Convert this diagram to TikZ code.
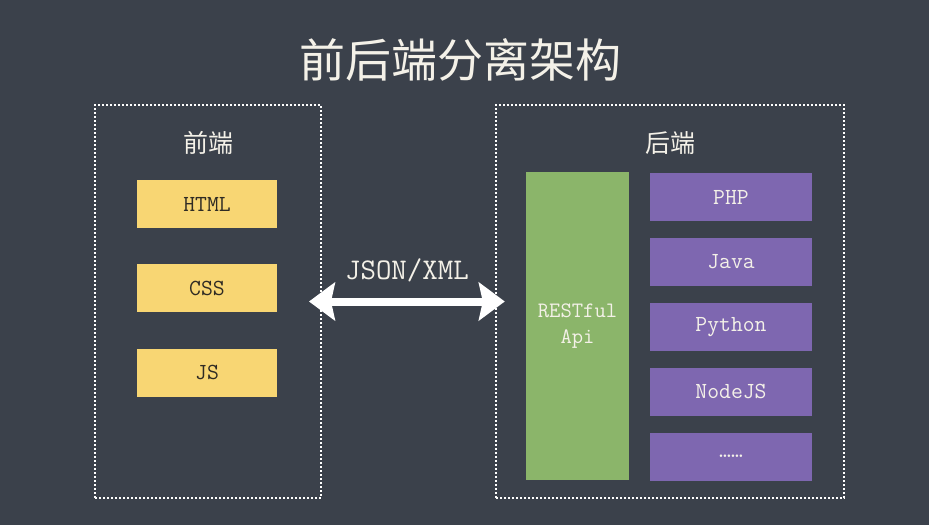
\documentclass[tikz,border=0pt]{standalone}
\usepackage{fontspec}
\newfontfamily\cjk{Noto Sans CJK SC}
\usetikzlibrary{arrows.meta}
\usetikzlibrary{positioning}

\definecolor{board}{HTML}{3B414B}
\definecolor{chalk}{HTML}{F4F1E8}
\definecolor{htmlyellow}{HTML}{F8D673}
\definecolor{apigreen}{HTML}{8BB56A}
\definecolor{langpurple}{HTML}{7E67B0}
\definecolor{inkbrown}{HTML}{2F2B24}

\begin{document}
\begin{tikzpicture}[
  x=1pt, y=-1pt,
	title/.style={
	text=chalk,
	font=\cjk\fontsize{46}{50}\selectfont},
	head/.style={
	text=chalk,
	font=\cjk\fontsize{25}{28}\selectfont},
	group/.style={
	draw=white,
	line width=2pt,
	dash pattern=on 2pt off 2pt,
	rectangle},
	block1/.style={
	fill=htmlyellow,
	rectangle,
	text=inkbrown,
	minimum width=140pt,
	minimum height=48pt,
	font=\ttfamily\fontsize{23}{26}\selectfont},
	block2/.style={
	fill=langpurple,
	rectangle,
	text=chalk,
	minimum width=162pt,
	minimum height=48pt,
	font=\ttfamily\fontsize{23}{26}\selectfont},
	block3/.style={
	fill=apigreen,
	rectangle,
	text=chalk,
	align=center,
	minimum width=103pt,
	font=\ttfamily\fontsize{22}{26}\selectfont},
  arrow2/.style={
  {Stealth[length=26pt, width=38pt, inset=4pt]}-{Stealth[length=26pt, width=38pt, inset=4pt]},
  draw=white,
  line width=8pt
  }]

	% Board
	\fill[board] (0,0) rectangle (929,525);
	\useasboundingbox (0,0) rectangle (929,525);

	\node [title] at (460,60) (title) {前后端分离架构};

	% Frontend
	\node [group, minimum width=226pt, minimum height=393pt] at (208,301.5) (front) {};
	\node [head] at (208,143)                 (fronthead) {前端};
	\node [block1] at (207,204)               (html) {HTML};
	\node [block1, below=36pt of html]        (css)  {CSS};
	\node [block1, below=36pt of css]         (js)   {JS};

	% Backend
	\node [group, minimum width=348pt, minimum height=393pt] at (670,301.5) (back) {};
	\node [head] at (670,143)                 (backhead) {后端};
	\node [block3, minimum height=308pt] at (577.5,326) (api) {RESTful\\Api};
	\node [block2] at (731,197)               (php)    {PHP};
	\node [block2, below=16.5pt of php]       (java)   {Java};
	\node [block2, below=16.5pt of java]      (python) {Python};
	\node [block2, below=16.5pt of python]    (nodejs) {NodeJS};
	\node [block2, below=16.5pt of nodejs]    (more)   {……};

	% Data exchange
	\draw[arrow2] ([xshift=-13pt]front.east) -- ([xshift=-21pt]api.west |- front.east)
	  node [midway, above=12pt, text=chalk, font=\ttfamily\fontsize{30}{32}\selectfont] (json) {JSON/XML};

\end{tikzpicture}
\end{document}
